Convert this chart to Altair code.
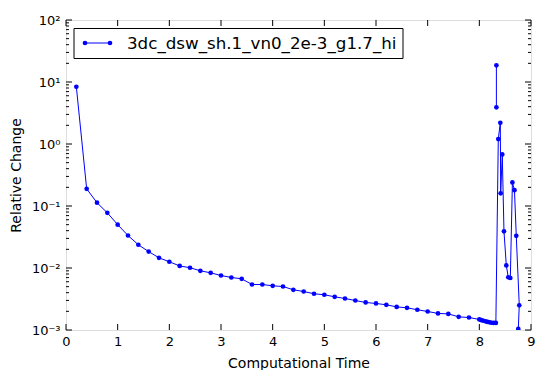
import altair as alt
import pandas as pd

# ---- data ----
time_main = [0.2, 0.4, 0.6, 0.8, 1.0, 1.2, 1.4, 1.6, 1.8, 2.0,
             2.2, 2.4, 2.6, 2.8, 3.0, 3.2, 3.4, 3.6, 3.8, 4.0,
             4.2, 4.4, 4.6, 4.8, 5.0, 5.2, 5.4, 5.6, 5.8, 6.0,
             6.2, 6.4, 6.6, 6.8, 7.0, 7.2, 7.4, 7.6, 7.8, 8.0,
             8.04, 8.08, 8.12, 8.16, 8.20, 8.24, 8.28, 8.32,
             8.367, 8.406, 8.413, 8.444, 8.477, 8.522, 8.56, 8.60,
             8.64, 8.68, 8.715, 8.773, 8.754]
change_main = [8.38, 0.189, 0.113, 0.0776, 0.0500, 0.0334, 0.0237, 0.0184, 0.0146, 0.0126,
               0.0108, 0.0101, 0.00901, 0.00836, 0.00757, 0.00703, 0.00670, 0.00542, 0.00542, 0.00516,
               0.00503, 0.00445, 0.00418, 0.00384, 0.00370, 0.00343, 0.00322, 0.00299, 0.00278, 0.00268,
               0.00255, 0.00236, 0.00228, 0.00212, 0.00199, 0.00185, 0.00182, 0.00163, 0.00159, 0.00148,
               0.00144, 0.00141, 0.00138, 0.00135, 0.00133, 0.00131, 0.00130, 0.00130,
               1.2, 2.2, 0.16, 0.68, 0.039, 0.011, 0.0071, 0.0069,
               0.24, 0.18, 0.033, 0.0025, 0.00104]
time_spike = [8.33, 8.33]
change_spike = [18.6, 3.9]

series_label = "3dc_dsw_sh.1_vn0_2e-3_g1.7_hi"
x_ticks = [0, 1, 2, 3, 4, 5, 6, 7, 8, 9]
y_major = [1e-3, 1e-2, 1e-1, 1e0, 1e1, 1e2]
y_major_labels = ["10⁻³", "10⁻²", "10⁻¹", "10⁰", "10¹", "10²"]
y_minor = [m * d for d in [1e-3, 1e-2, 1e-1, 1e0, 1e1] for m in range(2, 10)]

W, H = 465, 310
BLUE = "#0000ff"
FONT = "DejaVu Sans"

rows = []
for i, (t, c) in enumerate(zip(time_main, change_main)):
    rows.append({"t": t, "v": c, "seg": "a", "idx": i})
for i, (t, c) in enumerate(zip(time_spike, change_spike)):
    rows.append({"t": t, "v": c, "seg": "b", "idx": i})
df = pd.DataFrame(rows)

xscale = alt.Scale(domain=[0, 9], nice=False, zero=False)
yscale = alt.Scale(type="log", domain=[1e-3, 1e2], nice=False)

label_expr = "[" + ",".join("'%s'" % s for s in y_major_labels) + "][round(log(datum.value)/LN10)+3]"

x_axis = alt.Axis(title="Computational Time", values=x_ticks, tickSize=0,
                  domain=False, grid=False, labelPadding=5, labelFontSize=13,
                  labelFont=FONT, titleFont=FONT, titleFontSize=14, labelFlush=False,
                  titleFontWeight="normal", titlePadding=8, labelColor="black",
                  titleColor="black", format="d")
y_axis = alt.Axis(title="Relative Change", values=y_major, tickSize=0,
                  domain=False, grid=False, labelPadding=6, labelFontSize=13,
                  labelFont=FONT, titleFont=FONT, titleFontSize=14, labelFlush=False,
                  titleFontWeight="normal", titlePadding=8, labelExpr=label_expr,
                  labelColor="black", titleColor="black")

def X():
    return alt.X("t:Q", scale=xscale, axis=x_axis)

def Y():
    return alt.Y("v:Q", scale=yscale, axis=y_axis)

line = alt.Chart(df).mark_line(color=BLUE, strokeWidth=1, clip=True).encode(
    x=X(), y=Y(), detail="seg:N", order="idx:Q")
pts = alt.Chart(df).mark_circle(color=BLUE, size=22, opacity=1, clip=True).encode(
    x=X(), y=Y())

ymaj = pd.DataFrame({"v": y_major})
ymin = pd.DataFrame({"v": y_minor})
xmaj = pd.DataFrame({"t": x_ticks})

def yticks(d, x0, x1):
    return alt.Chart(d).mark_rule(color="black", strokeWidth=1).encode(
        y=Y(), x=alt.value(x0), x2=alt.value(x1))

def xticks(d, y0, y1):
    return alt.Chart(d).mark_rule(color="black", strokeWidth=1).encode(
        x=X(), y=alt.value(y0), y2=alt.value(y1))

tick_layers = [
    yticks(ymaj, 0, 6), yticks(ymaj, W - 6, W),
    yticks(ymin, 0, 3), yticks(ymin, W - 3, W),
    xticks(xmaj, H - 6, H), xticks(xmaj, 0, 6),
]

one = pd.DataFrame({"k": [0]})
leg_box = alt.Chart(one).mark_rect(fill="white", stroke="black", strokeWidth=1).encode(
    x=alt.value(8), x2=alt.value(337), y=alt.value(8.5), y2=alt.value(38.5))
leg_line = alt.Chart(one).mark_rule(color=BLUE, strokeWidth=1).encode(
    x=alt.value(19), x2=alt.value(44), y=alt.value(23), y2=alt.value(23))
leg_p1 = alt.Chart(one).mark_circle(color=BLUE, size=22, opacity=1).encode(
    x=alt.value(19), y=alt.value(23))
leg_p2 = alt.Chart(one).mark_circle(color=BLUE, size=22, opacity=1).encode(
    x=alt.value(44), y=alt.value(23))
leg_text = alt.Chart(one).mark_text(align="left", baseline="middle", fontSize=16.7,
                                    font=FONT, color="black").encode(
    x=alt.value(61), y=alt.value(24), text=alt.value(series_label))

chart = alt.layer(line, pts, *tick_layers, leg_box, leg_line, leg_p1, leg_p2, leg_text).properties(
    width=W, height=H,
    padding={"left": 58, "top": 12, "right": 6, "bottom": 40},
    autosize=alt.AutoSizeParams(type="none"),
).configure_view(stroke="black", strokeWidth=1).configure(background="white")

chart.save("out.html", embed_options={"renderer": "svg", "actions": False})
